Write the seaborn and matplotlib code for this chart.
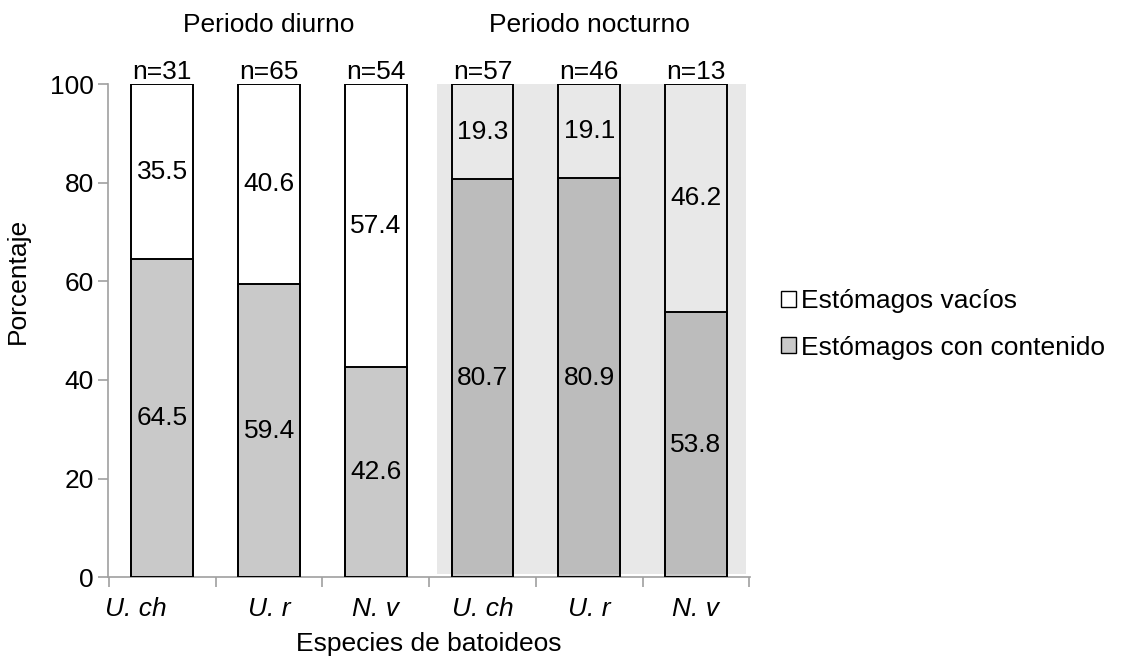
import matplotlib
matplotlib.use("Agg")
import matplotlib.pyplot as plt
import matplotlib.transforms as mtransforms
from matplotlib.patches import Patch
import seaborn as sns
import pandas as pd
import numpy as np

# Data: stomach contents of batoids by period
especies = ["U. ch", "U. r", "N. v", "U. ch", "U. r", "N. v"]
periodo = ["diurno", "diurno", "diurno", "nocturno", "nocturno", "nocturno"]
n_muestra = [31, 65, 54, 57, 46, 13]
con_contenido = [64.5, 59.4, 42.6, 80.7, 80.9, 53.8]
vacios = [35.5, 40.6, 57.4, 19.3, 19.1, 46.2]

sns.set_theme(style="white")
plt.rcParams["font.family"] = ["Liberation Sans", "DejaVu Sans"]
plt.rcParams["text.color"] = "black"
plt.rcParams["xtick.color"] = "#a0a0a0"
plt.rcParams["ytick.color"] = "#a0a0a0"
plt.rcParams["xtick.labelcolor"] = "black"
plt.rcParams["ytick.labelcolor"] = "black"
plt.rcParams["axes.labelcolor"] = "black"

df = pd.DataFrame({
    "grupo": [f"{p}_{i}" for i, p in enumerate(periodo)],
    "especie": especies,
    "contenido": con_contenido,
    "vacios": vacios,
})
df["total"] = df["contenido"] + df["vacios"]

fig = plt.figure(figsize=(11.27, 6.62), dpi=100)
ax = fig.add_axes([0.0958, 0.128, 0.570, 0.745])

# Shaded background for the night period
ax.add_patch(plt.Rectangle((2.57, 0.6), 2.9, 99.4, facecolor="#e8e8e8",
                           edgecolor="none", zorder=0))

order = list(df["grupo"])
width = 0.58
# Full bars (empty stomachs on top)
sns.barplot(data=df, x="grupo", y="total", order=order, ax=ax, width=width,
            color="white", edgecolor="black", linewidth=1.4, zorder=2)
for patch, p in zip(ax.patches[1:], periodo):
    patch.set_facecolor("none" if p == "nocturno" else "white")
n_prev = len(ax.patches)
# Bars for stomachs with content
sns.barplot(data=df, x="grupo", y="contenido", order=order, ax=ax, width=width,
            color="gray", edgecolor="black", linewidth=1.4, zorder=3)
for patch in ax.patches[n_prev:]:
    patch.set_facecolor((0.5, 0.5, 0.5, 0.42))

fs = 19
xs = np.arange(len(order))
for x, c, v, n in zip(xs, con_contenido, vacios, n_muestra):
    ax.text(x, c / 2, f"{c:.1f}", ha="center", va="center", fontsize=fs, zorder=5)
    ax.text(x, c + v / 2, f"{v:.1f}", ha="center", va="center", fontsize=fs, zorder=5)
    ax.text(x, 100.0, f"n={n}", ha="center", va="bottom", fontsize=fs, clip_on=False)

ax.text(1, 112.0, "Periodo diurno", ha="center", va="center", fontsize=fs)
ax.text(4, 112.0, "Periodo nocturno", ha="center", va="center", fontsize=fs)

ax.set_xlim(-0.51, 5.51)
ax.set_ylim(0, 100)
ax.set_yticks(np.arange(0, 101, 20))
ax.tick_params(axis="y", labelsize=fs, length=7, width=1.2, direction="out",
               left=True, pad=3)
ax.set_xticks(xs)
ax.set_xticklabels(especies, fontsize=fs, style="italic")
ax.tick_params(axis="x", length=0, pad=14)
ax.set_xticks(np.arange(-0.5, 6, 1), minor=True)
ax.tick_params(axis="x", which="minor", length=7, width=1.2, direction="out",
               bottom=True)
# first category label sits further left, near the axis
first = ax.get_xticklabels()[0]
first.set_transform(first.get_transform() +
                    mtransforms.ScaledTranslation(-0.27, 0, fig.dpi_scale_trans))

ax.set_xlabel("Especies de batoideos", fontsize=fs, labelpad=8)
ax.set_ylabel("Porcentaje", fontsize=fs)
ax.yaxis.set_label_coords(-0.122, 0.60)

for side in ["top", "right"]:
    ax.spines[side].set_visible(False)
for side in ["left", "bottom"]:
    ax.spines[side].set_color("#a0a0a0")
    ax.spines[side].set_linewidth(1.2)

handles = [
    Patch(facecolor="white", edgecolor="black", linewidth=1.0, label="Estómagos vacíos"),
    Patch(facecolor=(0.5, 0.5, 0.5, 0.42), edgecolor="black", linewidth=1.0,
          label="Estómagos con contenido"),
]
fig.legend(handles=handles, loc="center left", bbox_to_anchor=(0.672, 0.51),
           frameon=False, fontsize=fs, handlelength=0.55, handleheight=0.55,
           handletextpad=0.2, labelspacing=0.85)

fig.savefig("out.png", dpi=100)
